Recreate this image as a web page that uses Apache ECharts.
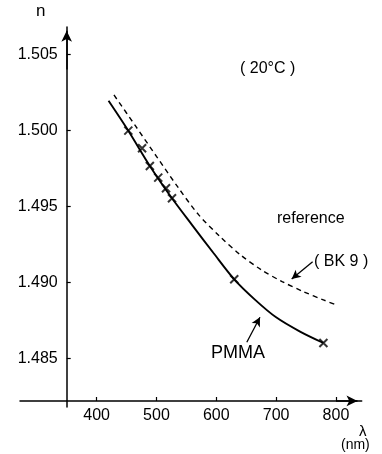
<!DOCTYPE html>
<html>
<head>
<meta charset="utf-8">
<script src="https://cdn.jsdelivr.net/npm/echarts@6/dist/echarts.min.js"></script>
<style>
  html, body { margin: 0; padding: 0; background: #fff; }
  #chart { width: 382px; height: 454px; }
</style>
</head>
<body>
<div id="chart"></div>
<script>
// PMMA curve (solid) and BK 9 reference curve (dashed)
const pmmaLambda = [420, 453, 489, 526, 560, 595, 630, 665, 700, 740, 779];
const pmmaN = [1.50195, 1.49998, 1.49766, 1.49553, 1.49375, 1.49195, 1.49020, 1.48885, 1.48770, 1.48676, 1.48601];

const bk9Lambda = [429, 465, 500, 535, 570, 605, 640, 675, 710, 745, 780, 801];
const bk9N = [1.50233, 1.50029, 1.49829, 1.49631, 1.49447, 1.49306, 1.49182, 1.49083, 1.49005, 1.48940, 1.48883, 1.48851];

// measured points (x marks)
const markLambda = [453, 476, 489, 503, 516, 526, 630, 779];
const markN = [1.49998, 1.49882, 1.49766, 1.49689, 1.49619, 1.49553, 1.49020, 1.48601];

const xTicks = [400, 500, 600, 700, 800];
const yTicks = [1.485, 1.490, 1.495, 1.500, 1.505];

const font = 'Liberation Sans';

const chart = echarts.init(document.getElementById('chart'), null, { renderer: 'canvas' });

const zip = (xs, ys) => xs.map((x, i) => [x, ys[i]]);

// where the two axes cross (data units)
const xCross = 350;
const yCross = 1.4822;

const option = {
  backgroundColor: '#fff',
  animation: false,
  grid: {
    left: 20,
    right: 20.3,
    top: 27,
    bottom: 47,
    containLabel: false,
    outerBoundsMode: 'none'
  },
  xAxis: {
    type: 'value',
    min: 272,
    max: 843,
    offset: -6,
    axisLine: { lineStyle: { color: '#000', width: 1.5 } },
    axisTick: { inside: true, length: 4, customValues: xTicks, lineStyle: { color: '#000', width: 1.2 } },
    axisLabel: {
      customValues: xTicks,
      color: '#000',
      fontFamily: font,
      fontSize: 16,
      margin: 7
    },
    splitLine: { show: false }
  },
  yAxis: {
    type: 'value',
    min: 1.4818,
    max: 1.5068,
    offset: -46.7,
    axisLine: { show: true, lineStyle: { color: '#000', width: 1.5 } },
    axisTick: { show: true, inside: true, length: 4, customValues: yTicks, lineStyle: { color: '#000', width: 1.2 } },
    axisLabel: {
      customValues: yTicks,
      formatter: v => v.toFixed(3),
      color: '#000',
      fontFamily: font,
      fontSize: 16,
      margin: 9
    },
    splitLine: { show: false }
  },
  graphic: [
    { type: 'text', left: 36, top: 3, style: { text: 'n', font: '17px ' + font, fill: '#000' } },
    { type: 'text', left: 359, top: 424, style: { text: 'λ', font: '15px ' + font, fill: '#000' } },
    { type: 'text', left: 341, top: 438, style: { text: '(nm)', font: '14px ' + font, fill: '#000' } },
    { type: 'text', left: 240, top: 61, style: { text: '( 20°C )', font: '16px ' + font, fill: '#000' } },
    { type: 'text', left: 277, top: 211, style: { text: 'reference', font: '16px ' + font, fill: '#000' } },
    { type: 'text', left: 314, top: 254, style: { text: '( BK 9 )', font: '16px ' + font, fill: '#000' } },
    { type: 'text', left: 211, top: 344, style: { text: 'PMMA', font: '18px ' + font, fill: '#000' } }
  ],
  series: [
    {
      name: 'BK 9',
      type: 'line',
      data: zip(bk9Lambda, bk9N),
      smooth: 0.3,
      showSymbol: false,
      lineStyle: { color: '#000', width: 1.4, type: [5, 4] },
      markLine: {
        silent: true,
        symbol: ['none', 'arrow'],
        symbolSize: [7, 9],
        label: { show: false },
        lineStyle: { color: '#000', width: 1.3, type: 'solid' },
        data: [[{ coord: [761, 1.49136] }, { coord: [726, 1.49022] }]]
      }
    },
    {
      name: 'PMMA',
      type: 'line',
      data: zip(pmmaLambda, pmmaN),
      smooth: 0.3,
      showSymbol: false,
      lineStyle: { color: '#000', width: 1.9 },
      markLine: {
        silent: true,
        symbol: ['none', 'arrow'],
        symbolSize: [7, 9],
        label: { show: false },
        lineStyle: { color: '#000', width: 1.3, type: 'solid' },
        data: [[{ coord: [651, 1.48606] }, { coord: [673, 1.48770] }]]
      }
    },
    {
      name: 'measured',
      type: 'scatter',
      data: zip(markLambda, markN),
      symbol: 'path://M0,0L10,10M10,0L0,10',
      symbolSize: 8,
      itemStyle: { color: 'none', borderColor: '#000', borderWidth: 2 },
      // arrow heads at the ends of the two axes
      markLine: {
        silent: true,
        symbol: ['none', 'arrow'],
        symbolSize: [8, 11],
        label: { show: false },
        lineStyle: { color: '#000', width: 1.5, type: 'solid' },
        data: [
          [{ coord: [xCross, 1.5040] }, { coord: [xCross, 1.50655] }],
          [{ coord: [800, yCross] }, { coord: [836, yCross] }]
        ]
      }
    }
  ]
};

chart.setOption(option);
</script>
</body>
</html>
